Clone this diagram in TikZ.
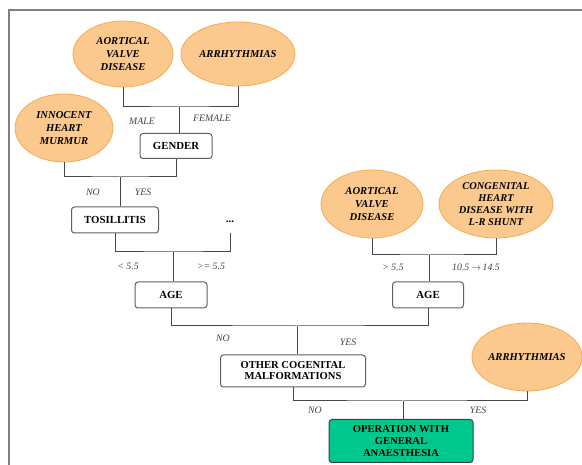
\documentclass[tikz,border=0pt]{standalone}
\usepackage{fontspec}
\setmainfont{Liberation Serif}
\usetikzlibrary{shapes.geometric}
\definecolor{ellfill}{RGB}{251,201,142}
\definecolor{elldraw}{RGB}{246,170,80}
\definecolor{opfill}{RGB}{0,200,140}
\definecolor{linegray}{RGB}{95,95,95}
\begin{document}
\begin{tikzpicture}[x=1pt,y=-1pt,
  ell/.style={ellipse, draw=elldraw, fill=ellfill, line width=0.8pt, inner sep=0pt, align=center,
    font=\fontsize{10.6}{12.8}\selectfont\bfseries\itshape},
  decbox/.style={draw=linegray, rounded corners=3pt, line width=1pt, fill=white, align=center,
    inner sep=0pt, font=\fontsize{10.8}{11.7}\selectfont\bfseries},
  lab/.style={font=\fontsize{9.8}{10}\selectfont\itshape, text=black!75},
  conn/.style={draw=black!72, line width=1pt}]
\useasboundingbox (0,0) rectangle (582,465);
% frame
\draw[gray, line width=1.4pt] (582,10) -- (9,10) -- (9,465);
% ellipses
\node[ell, minimum width=100pt, minimum height=66pt] (aort1) at (123,54) {AORTICAL\\VALVE\\DISEASE};
\node[ell, minimum width=114pt, minimum height=64pt] (arr1) at (238,54) {ARRHYTHMIAS};
\node[ell, minimum width=98pt, minimum height=68pt] (inno) at (64,128) {INNOCENT\\HEART\\MURMUR};
\node[ell, minimum width=102pt, minimum height=68pt] (aort2) at (372,204) {AORTICAL\\VALVE\\DISEASE};
\node[ell, minimum width=114pt, minimum height=68pt, font=\fontsize{10.4}{12}\selectfont\bfseries\itshape] (cong) at (496,204) {CONGENITAL\\HEART\\DISEASE WITH\\L-R SHUNT};
\node[ell, minimum width=110pt, minimum height=68pt] (arr2) at (527,357) {ARRHYTHMIAS};
% boxes
\node[decbox, minimum width=72pt, minimum height=25pt] (gender) at (176,146) {GENDER};
\node[decbox, minimum width=87pt, minimum height=26pt] (tos) at (115,220) {TOSILLITIS};
\node[inner sep=0pt, minimum height=22pt, font=\fontsize{11}{12}\selectfont\bfseries] (dots) at (230,222) {...};
\node[decbox, minimum width=72pt, minimum height=26pt] (age1) at (171,295) {AGE};
\node[decbox, minimum width=71pt, minimum height=26pt] (age2) at (428,295) {AGE};
\node[decbox, minimum width=145pt, minimum height=32pt, font=\fontsize{10.6}{11}\selectfont\bfseries] (other) at (293,371) {OTHER COGENITAL\\MALFORMATIONS};
\node[decbox, fill=opfill, draw=black!75, minimum width=144pt, minimum height=43pt, font=\fontsize{10.6}{11.6}\selectfont\bfseries] (op) at (401,441) {OPERATION WITH\\GENERAL\\ANAESTHESIA};
% junctions
\coordinate (j1) at (179,107);
\coordinate (j2) at (120,177);
\coordinate (j3) at (173,252);
\coordinate (j4) at (297,326);
\coordinate (j5) at (429,255);
\coordinate (j6) at (403,401);
% connectors
\draw[conn] (aort1.south) |- (j1) -| (arr1.south);
\draw[conn] (j1) -- (j1 |- gender.north);
\draw[conn] (inno.south) |- (j2) -| (gender.south);
\draw[conn] (j2) -- (j2 |- tos.north);
\draw[conn] (tos.south) |- (j3) -| (dots.south);
\draw[conn] (j3) -- (j3 |- age1.north);
\draw[conn] (aort2.south) |- (j5) -| (cong.south);
\draw[conn] (j5) -- (j5 |- age2.north);
\draw[conn] (age1.south) |- (j4) -| (age2.south);
\draw[conn] (j4) -- (j4 |- other.north);
\draw[conn] (other.south) |- (j6) -| (arr2.south);
\draw[conn] (j6) -- (j6 |- op.north);
% labels
\node[lab] (lmale) at (142,121) {MALE};
\node[lab] (lfemale) at (212,118) {FEMALE};
\node[lab] (lno1) at (93,192) {NO};
\node[lab] (lyes1) at (143,192) {YES};
\node[lab] (llt) at (128,266) {< 5.5};
\node[lab] (lge) at (211,266) {>= 5.5};
\node[lab] (lgt) at (393,267) {> 5.5};
\node[lab] (lrange) at (476,267) {10.5\,$\rightarrow$\,14.5};
\node[lab] (lno2) at (223,338) {NO};
\node[lab] (lyes2) at (348,342) {YES};
\node[lab] (lno3) at (315,410) {NO};
\node[lab] (lyes3) at (478,410) {YES};
\end{tikzpicture}
\end{document}
